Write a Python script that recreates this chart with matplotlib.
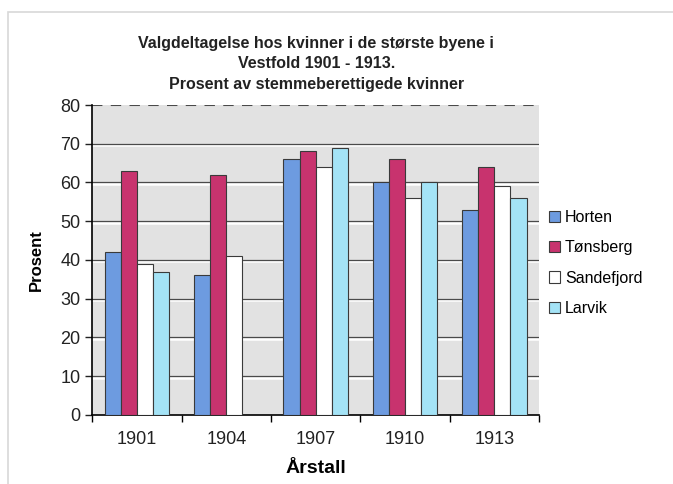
import matplotlib.pyplot as plt
import numpy as np
from matplotlib.patches import Rectangle

plt.rcParams['font.family'] = ['Liberation Sans', 'DejaVu Sans']

years = ['1901', '1904', '1907', '1910', '1913']
series_names = ['Horten', 'Tønsberg', 'Sandefjord', 'Larvik']
horten = [42, 36, 66, 60, 53]
tonsberg = [63, 62, 68, 66, 64]
sandefjord = [39, 41, 64, 56, 59]
larvik = [37, np.nan, 69, 60, 56]
colors = ['#6d9be0', '#c8336e', '#ffffff', '#a4e3f6']

fig = plt.figure(figsize=(6.73, 4.84), dpi=100)
# faint page border from the scan
fig.patches.append(Rectangle((0.012, -0.01), 1.0, 0.985, transform=fig.transFigure,
                             fill=False, edgecolor='#d8d8d8', linewidth=1.2))
ax = fig.add_axes([0.137, 0.143, 0.664, 0.640])
ax.set_facecolor('#e2e2e2')

x = np.arange(len(years))
w = 0.18
for k, (vals, c) in enumerate(zip([horten, tonsberg, sandefjord, larvik], colors)):
    ax.bar(x + (k - 1.5) * w, vals, width=w, color=c, edgecolor='#3a3a3a',
           linewidth=0.8, label=series_names[k], zorder=3)

# gridlines with white highlight below, as in the original
for v in range(10, 80, 10):
    ax.axhline(v - 0.4, color='white', linewidth=1.8, zorder=1)
    ax.axhline(v, color='#4a4a4a', linewidth=0.9, zorder=2)
ax.axhline(80, color='#4a4a4a', linewidth=1.5, linestyle=(0, (5, 4)), zorder=2)

ax.set_ylim(0, 80)
ax.set_xlim(-0.5, len(years) - 0.5)
ax.set_yticks(range(0, 81, 10))
ax.tick_params(axis='y', labelsize=13, length=5, width=1, colors='#222222')
ax.set_xticks(x)
ax.set_xticklabels(years)
ax.tick_params(axis='x', which='major', length=0, labelsize=13, pad=12, colors='#222222')
ax.set_xticks(np.arange(-0.5, len(years), 1.0), minor=True)
ax.tick_params(axis='x', which='minor', length=5, width=1, direction='out')

for s in ['top', 'right']:
    ax.spines[s].set_visible(False)
ax.spines['left'].set_linewidth(1.2)
ax.spines['bottom'].set_linewidth(1.2)

ax.set_xlabel('Årstall', fontsize=14, fontweight='bold', labelpad=8)
ax.set_ylabel('Prosent', fontsize=12, fontweight='bold', labelpad=12)

fig.text(0.470, 0.868, 'Valgdeltagelse hos kvinner i de største byene i\nVestfold 1901 - 1913.\nProsent av stemmeberettigede kvinner',
         ha='center', va='center', fontsize=11.5, fontweight='bold', color='#222222', linespacing=1.45)

leg = ax.legend(loc='center left', bbox_to_anchor=(0.99, 0.49), frameon=False,
                fontsize=11.5, handlelength=0.7, handleheight=0.7, handletextpad=0.3,
                labelspacing=0.95)

fig.savefig('out.png', dpi=100)
